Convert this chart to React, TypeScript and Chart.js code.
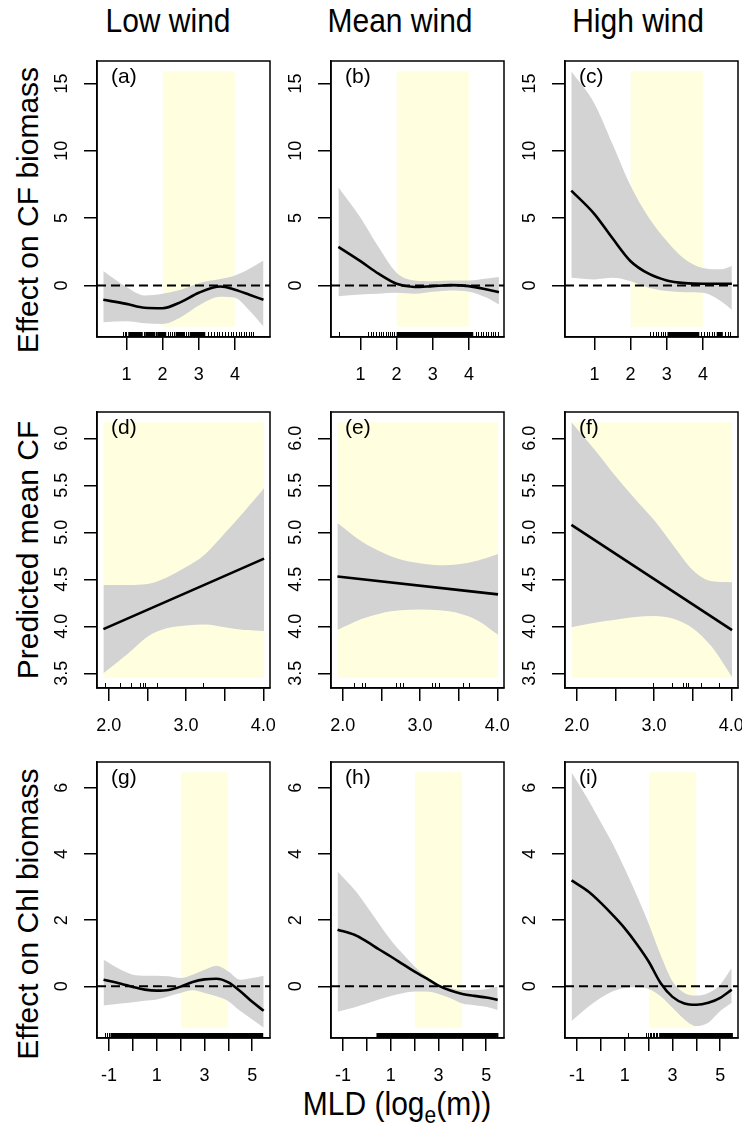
import React, { useEffect, useRef } from "react";
import { Chart, registerables } from "chart.js";

Chart.register(...registerables);

const FONT = '"Liberation Sans", Arial, Helvetica, sans-serif';

// ---------- text ----------
const columnTitles = ["Low wind", "Mean wind", "High wind"];
const rowTitles = ["Effect on CF biomass", "Predicted mean CF", "Effect on Chl biomass"];
const panelLetters = [
  ["(a)", "(b)", "(c)"],
  ["(d)", "(e)", "(f)"],
  ["(g)", "(h)", "(i)"],
];

// ---------- axes per row ----------
const row1XRange = [0.186, 4.97];
const row1YRange = [-3.83, 16.67];
const row1XTicks = [1, 2, 3, 4];
const row1XLabels = ["1", "2", "3", "4"];
const row1YTicks = [0, 5, 10, 15];
const row1YLabels = ["0", "5", "10", "15"];
const row1Yellow = { x: [2, 4], y: [-3.07, 15.91] };

const row2XRange = [1.847, 4.087];
const row2YRange = [3.344, 6.28];
const row2XTicks = [2.0, 2.5, 3.0, 3.5, 4.0];
const row2XLabels = ["2.0", "", "3.0", "", "4.0"];
const row2YTicks = [3.5, 4.0, 4.5, 5.0, 5.5, 6.0];
const row2YLabels = ["3.5", "4.0", "4.5", "5.0", "5.5", "6.0"];
const row2Yellow = { x: [1.93, 4.01], y: [3.45, 6.17] };

const row3XRange = [-1.504, 5.744];
const row3YRange = [-1.563, 6.78];
const row3XTicks = [-1, 0, 1, 2, 3, 4, 5];
const row3XLabels = ["-1", "", "1", "", "3", "", "5"];
const row3YTicks = [0, 2, 4, 6];
const row3YLabels = ["0", "2", "4", "6"];
const row3Yellow = { x: [2, 4], y: [-1.254, 6.47] };

// ---------- data: row 1 (effect on CF biomass) ----------
const aX = [0.36, 1.0, 1.5, 2.0, 2.5, 3.0, 3.6, 4.0, 4.4, 4.79];
const aFit = [-1.07, -1.37, -1.66, -1.69, -1.24, -0.54, -0.08, -0.32, -0.69, -1.07];
const aUpper = [1.07, -0.12, -0.74, -0.62, -0.32, 0.17, 0.47, 0.74, 1.24, 1.86];
const aLower = [-2.73, -2.66, -2.8, -2.86, -2.36, -1.49, -0.84, -0.92, -1.86, -3.05];
const aRugTicks = [0.9, 0.95, 1.0, 1.48, 1.82, 2.15, 2.2, 2.27, 2.32, 2.65, 2.7, 3.25, 3.35, 3.42, 3.5, 3.55, 3.65, 3.72, 3.8, 3.88, 3.95, 4.02, 4.1, 4.16, 4.25, 4.3, 4.38, 4.45, 4.5];
const aRugSpans = [[1.05, 1.45], [1.52, 1.8], [1.85, 2.1], [2.36, 2.62], [2.75, 3.18]];

const bX = [0.39, 1.0, 1.5, 2.0, 2.5, 3.0, 3.5, 4.0, 4.5, 4.83];
const bFit = [2.86, 1.8, 0.87, 0.12, -0.12, -0.05, 0.02, -0.05, -0.3, -0.5];
const bUpper = [7.3, 5.05, 2.85, 0.95, 0.37, 0.32, 0.37, 0.37, 0.52, 0.62];
const bLower = [-0.8, -0.67, -0.62, -0.55, -0.62, -0.47, -0.37, -0.47, -0.92, -1.42];
const bRugTicks = [0.4, 1.2, 1.28, 1.35, 1.42, 1.5, 1.56, 1.62, 1.7, 1.76, 1.82, 1.88, 1.94, 4.2, 4.26, 4.33, 4.4, 4.46, 4.52, 4.6, 4.66, 4.72, 4.8];
const bRugSpans = [[2.0, 4.12]];

const cX = [0.36, 1.0, 1.5, 2.0, 2.5, 3.0, 3.5, 4.0, 4.5, 4.8];
const cFit = [7.04, 5.3, 3.5, 1.8, 0.87, 0.37, 0.17, 0.12, 0.12, 0.12];
const cUpper = [15.9, 13.5, 10.5, 7.4, 5.05, 3.3, 1.95, 1.3, 1.2, 1.45];
const cLower = [0.57, 0.45, 0.57, 0.32, -0.17, -0.42, -0.5, -0.55, -1.17, -1.8];
const cRugTicks = [2.55, 2.62, 2.7, 2.76, 2.84, 2.9, 2.96, 3.95, 4.02, 4.1, 4.18, 4.24, 4.32, 4.6, 4.68, 4.76];
const cRugSpans = [[3.02, 3.9], [4.38, 4.55]];

// ---------- data: row 2 (predicted mean CF) ----------
const row2BandX = [1.93, 2.25, 2.5, 2.75, 3.0, 3.25, 3.5, 3.75, 4.01];
const row2FitX = [1.93, 4.01];

const dFit = [3.97, 4.72];
const dUpper = [4.44, 4.44, 4.45, 4.52, 4.63, 4.77, 4.99, 5.22, 5.47];
const dLower = [3.5, 3.71, 3.89, 3.98, 4.01, 4.02, 3.99, 3.96, 3.95];
const dRugTicks = [1.95, 2.15, 2.29, 2.41, 2.44, 2.47, 2.63, 3.22];

const eFit = [4.53, 4.34];
const eUpper = [5.1, 4.9, 4.79, 4.71, 4.67, 4.65, 4.66, 4.7, 4.77];
const eLower = [3.96, 4.08, 4.14, 4.17, 4.18, 4.17, 4.14, 4.06, 3.91];
const eRugTicks = [2.15, 2.25, 2.29, 2.69, 2.74, 2.78, 3.15, 3.19, 3.24, 3.55, 3.63];

const fFit = [5.08, 3.96];
const fUpper = [6.17, 5.86, 5.6, 5.36, 5.13, 4.86, 4.6, 4.48, 4.47];
const fLower = [3.99, 4.04, 4.07, 4.1, 4.11, 4.08, 3.98, 3.78, 3.46];
const fRugTicks = [2.98, 3.23, 3.38, 3.41, 3.44, 3.61, 3.84];

// ---------- data: row 3 (effect on Chl biomass) ----------
const row3X = [-1.23, -0.5, 0, 0.5, 1.0, 1.5, 2.0, 2.5, 3.0, 3.5, 4.0, 4.5, 5.0, 5.48];

const gFit = [0.2, 0.08, -0.02, -0.1, -0.13, -0.11, -0.01, 0.13, 0.21, 0.23, 0.12, -0.15, -0.47, -0.74];
const gUpper = [0.8, 0.5, 0.35, 0.32, 0.32, 0.3, 0.25, 0.35, 0.5, 0.62, 0.45, 0.2, 0.25, 0.32];
const gLower = [-0.58, -0.52, -0.48, -0.44, -0.4, -0.3, -0.2, -0.12, -0.2, -0.3, -0.45, -0.75, -1.0, -1.25];
const gRugTicks = [-1.18, -1.1, -1.02];
const gRugSpans = [[-0.94, 5.46]];

const hFit = [1.71, 1.55, 1.35, 1.12, 0.9, 0.67, 0.44, 0.24, 0.02, -0.13, -0.23, -0.29, -0.34, -0.41];
const hUpper = [3.47, 2.9, 2.41, 1.9, 1.4, 0.98, 0.6, 0.29, 0.04, -0.06, -0.11, -0.11, -0.09, -0.01];
const hLower = [-0.77, -0.63, -0.52, -0.4, -0.29, -0.21, -0.16, -0.16, -0.23, -0.36, -0.52, -0.57, -0.62, -0.72];
const hRugTicks: number[] = [];
const hRugSpans = [[0.4, 5.51]];

const iFit = [3.2, 2.85, 2.52, 2.15, 1.75, 1.28, 0.75, 0.1, -0.32, -0.52, -0.56, -0.5, -0.35, -0.1];
const iUpper = [6.47, 5.6, 4.95, 4.3, 3.55, 2.75, 1.9, 0.95, 0.15, -0.2, -0.28, -0.2, 0.05, 0.55];
const iLower = [-1.05, -0.6, -0.35, -0.15, -0.05, -0.03, -0.08, -0.3, -0.65, -1.0, -1.2, -1.1, -0.75, -0.5];
const iRugTicks = [1.14, 1.9, 1.97, 2.04, 2.1, 2.17, 2.24, 2.3, 2.37];
const iRugSpans = [[2.44, 5.53]];

// ---------- layout ----------
const COL_LEFT = [97, 331, 565];
const ROW_TOP = [61, 412, 762];
const BOX_W = 173;
const BOX_H = 276;
const PAD_L = 60;
const PAD_T = 20;
const PAD_R = 24;
const PAD_B = 56;
const TITLE_X = [168, 400, 638];
const ROW_TITLE_Y = [210, 550, 914];

type RowCfg = {
  xRange: number[];
  yRange: number[];
  xTicks: number[];
  xLabels: string[];
  yTicks: number[];
  yLabels: string[];
  yellow: { x: number[]; y: number[] };
  zero: boolean;
};

const rowCfgs: RowCfg[] = [
  { xRange: row1XRange, yRange: row1YRange, xTicks: row1XTicks, xLabels: row1XLabels, yTicks: row1YTicks, yLabels: row1YLabels, yellow: row1Yellow, zero: true },
  { xRange: row2XRange, yRange: row2YRange, xTicks: row2XTicks, xLabels: row2XLabels, yTicks: row2YTicks, yLabels: row2YLabels, yellow: row2Yellow, zero: false },
  { xRange: row3XRange, yRange: row3YRange, xTicks: row3XTicks, xLabels: row3XLabels, yTicks: row3YTicks, yLabels: row3YLabels, yellow: row3Yellow, zero: true },
];

type Panel = {
  row: number;
  col: number;
  bandX: number[];
  upper: number[];
  lower: number[];
  fitX: number[];
  fit: number[];
  rugTicks: number[];
  rugSpans: number[][];
};

const panels: Panel[] = [
  { row: 0, col: 0, bandX: aX, upper: aUpper, lower: aLower, fitX: aX, fit: aFit, rugTicks: aRugTicks, rugSpans: aRugSpans },
  { row: 0, col: 1, bandX: bX, upper: bUpper, lower: bLower, fitX: bX, fit: bFit, rugTicks: bRugTicks, rugSpans: bRugSpans },
  { row: 0, col: 2, bandX: cX, upper: cUpper, lower: cLower, fitX: cX, fit: cFit, rugTicks: cRugTicks, rugSpans: cRugSpans },
  { row: 1, col: 0, bandX: row2BandX, upper: dUpper, lower: dLower, fitX: row2FitX, fit: dFit, rugTicks: dRugTicks, rugSpans: [] },
  { row: 1, col: 1, bandX: row2BandX, upper: eUpper, lower: eLower, fitX: row2FitX, fit: eFit, rugTicks: eRugTicks, rugSpans: [] },
  { row: 1, col: 2, bandX: row2BandX, upper: fUpper, lower: fLower, fitX: row2FitX, fit: fFit, rugTicks: fRugTicks, rugSpans: [] },
  { row: 2, col: 0, bandX: row3X, upper: gUpper, lower: gLower, fitX: row3X, fit: gFit, rugTicks: gRugTicks, rugSpans: gRugSpans },
  { row: 2, col: 1, bandX: row3X, upper: hUpper, lower: hLower, fitX: row3X, fit: hFit, rugTicks: hRugTicks, rugSpans: hRugSpans },
  { row: 2, col: 2, bandX: row3X, upper: iUpper, lower: iLower, fitX: row3X, fit: iFit, rugTicks: iRugTicks, rugSpans: iRugSpans },
];

const pts = (xs: number[], ys: number[]) => xs.map((x, i) => ({ x, y: ys[i] }));

function PanelChart({ p }: { p: Panel }) {
  const ref = useRef<HTMLCanvasElement | null>(null);
  const W = PAD_L + BOX_W + PAD_R;
  const H = PAD_T + BOX_H + PAD_B;

  useEffect(() => {
    if (!ref.current) return;
    const rc = rowCfgs[p.row];
    const letter = panelLetters[p.row][p.col];

    const decor = {
      id: "rDecor",
      afterDatasetsDraw(chart: any) {
        const { ctx, chartArea } = chart;
        const xs = chart.scales.x;
        ctx.save();
        ctx.fillStyle = "#000";
        ctx.strokeStyle = "#000";
        ctx.lineWidth = 1;
        const rugH = 5;
        p.rugSpans.forEach(([a, b]) => {
          const x0 = xs.getPixelForValue(a);
          const x1 = xs.getPixelForValue(b);
          ctx.fillRect(x0, chartArea.bottom - rugH, x1 - x0, rugH);
        });
        p.rugTicks.forEach((v) => {
          const x = Math.round(xs.getPixelForValue(v)) + 0.5;
          ctx.beginPath();
          ctx.moveTo(x, chartArea.bottom);
          ctx.lineTo(x, chartArea.bottom - rugH);
          ctx.stroke();
        });
        ctx.restore();
      },
      afterDraw(chart: any) {
        const { ctx, chartArea } = chart;
        const ys = chart.scales.y;
        ctx.save();
        ctx.strokeStyle = "#000";
        ctx.lineWidth = 1.5;
        ctx.strokeRect(chartArea.left, chartArea.top, chartArea.right - chartArea.left, chartArea.bottom - chartArea.top);
        ctx.fillStyle = "#000";
        ctx.font = `21px ${FONT}`;
        ctx.textAlign = "left";
        ctx.textBaseline = "middle";
        ctx.fillText(letter, chartArea.left + 14, chartArea.top + 16);
        ctx.font = `18px ${FONT}`;
        ctx.textAlign = "center";
        ctx.textBaseline = "middle";
        rc.yTicks.forEach((v, i) => {
          const y = ys.getPixelForValue(v);
          ctx.save();
          ctx.translate(chartArea.left - 35, y);
          ctx.rotate(-Math.PI / 2);
          ctx.fillText(rc.yLabels[i], 0, 0);
          ctx.restore();
        });
        ctx.restore();
      },
    };

    const datasets: any[] = [
      {
        label: "fit",
        data: pts(p.fitX, p.fit),
        borderColor: "#000",
        borderWidth: 2.6,
        pointRadius: 0,
        fill: false,
        cubicInterpolationMode: "monotone",
      },
    ];
    if (rc.zero) {
      datasets.push({
        label: "zero",
        data: [
          { x: rc.xRange[0], y: 0 },
          { x: rc.xRange[1], y: 0 },
        ],
        borderColor: "#000",
        borderWidth: 2,
        borderDash: [9, 5],
        pointRadius: 0,
        fill: false,
      });
    }
    datasets.push(
      {
        label: "upper",
        data: pts(p.bandX, p.upper),
        borderColor: "rgba(0,0,0,0)",
        borderWidth: 0,
        backgroundColor: "#d3d3d3",
        fill: "+1",
        pointRadius: 0,
        cubicInterpolationMode: "monotone",
      },
      {
        label: "lower",
        data: pts(p.bandX, p.lower),
        borderColor: "rgba(0,0,0,0)",
        borderWidth: 0,
        fill: false,
        pointRadius: 0,
        cubicInterpolationMode: "monotone",
      },
      {
        label: "rangeTop",
        data: pts(rc.yellow.x, [rc.yellow.y[1], rc.yellow.y[1]]),
        borderColor: "rgba(0,0,0,0)",
        borderWidth: 0,
        backgroundColor: "#FFFFE0",
        fill: "+1",
        pointRadius: 0,
      },
      {
        label: "rangeBottom",
        data: pts(rc.yellow.x, [rc.yellow.y[0], rc.yellow.y[0]]),
        borderColor: "rgba(0,0,0,0)",
        borderWidth: 0,
        fill: false,
        pointRadius: 0,
      }
    );

    const axisGrid = {
      display: true,
      drawOnChartArea: false,
      drawTicks: true,
      tickLength: 13,
      color: "#000",
      lineWidth: 1.5,
    };
    const axisBorder = { display: true, color: "#000", width: 1.5 };

    const chart = new Chart(ref.current, {
      type: "line",
      data: { datasets },
      options: {
        animation: false,
        responsive: false,
        maintainAspectRatio: false,
        events: [],
        layout: { padding: { left: 0, top: PAD_T, right: PAD_R, bottom: 0 } },
        plugins: {
          legend: { display: false },
          tooltip: { enabled: false },
          title: { display: false },
        },
        scales: {
          x: {
            type: "linear",
            position: "bottom",
            min: rc.xRange[0],
            max: rc.xRange[1],
            afterBuildTicks: (s: any) => {
              s.ticks = rc.xTicks.map((v) => ({ value: v }));
            },
            afterFit: (s: any) => {
              s.height = PAD_B;
            },
            grid: axisGrid,
            border: axisBorder,
            ticks: {
              autoSkip: false,
              maxRotation: 0,
              minRotation: 0,
              padding: 14,
              color: "#000",
              font: { family: FONT, size: 18 },
              callback: (_v: any, i: number) => rc.xLabels[i],
            },
          },
          y: {
            type: "linear",
            position: "left",
            min: rc.yRange[0],
            max: rc.yRange[1],
            afterBuildTicks: (s: any) => {
              s.ticks = rc.yTicks.map((v) => ({ value: v }));
            },
            afterFit: (s: any) => {
              s.width = PAD_L;
            },
            grid: axisGrid,
            border: axisBorder,
            ticks: { display: false },
          },
        },
      } as any,
      plugins: [decor],
    });
    return () => chart.destroy();
  }, []);

  return (
    <canvas
      ref={ref}
      width={W}
      height={H}
      style={{
        position: "absolute",
        left: COL_LEFT[p.col] - PAD_L,
        top: ROW_TOP[p.row] - PAD_T,
        width: W,
        height: H,
      }}
    />
  );
}

export default function App() {
  return (
    <div
      style={{
        position: "absolute",
        left: 0,
        top: 0,
        width: 742,
        height: 1126,
        overflow: "hidden",
        background: "#fff",
        fontFamily: FONT,
        color: "#000",
      }}
    >
      {columnTitles.map((t, i) => (
        <div
          key={t}
          style={{
            position: "absolute",
            left: TITLE_X[i] - 100,
            top: 4,
            width: 200,
            textAlign: "center",
            fontSize: 30,
            lineHeight: "34px",
            whiteSpace: "nowrap",
            transform: "scaleY(1.1)",
          }}
        >
          {t}
        </div>
      ))}
      {rowTitles.map((t, i) => (
        <div
          key={t}
          style={{
            position: "absolute",
            left: 28 - 200,
            top: ROW_TITLE_Y[i] - 17,
            width: 400,
            height: 34,
            textAlign: "center",
            fontSize: 30,
            lineHeight: "34px",
            whiteSpace: "nowrap",
            transform: "rotate(-90deg)",
            transformOrigin: "50% 50%",
          }}
        >
          {t}
        </div>
      ))}
      <div
        style={{
          position: "absolute",
          left: 397 - 150,
          top: 1087,
          width: 300,
          textAlign: "center",
          fontSize: 30,
          lineHeight: "34px",
          whiteSpace: "nowrap",
          transform: "scaleY(1.1)",
        }}
      >
        MLD (log
        <span style={{ fontSize: 21, position: "relative", top: 7 }}>e</span>
        (m))
      </div>
      {panels.map((p) => (
        <PanelChart key={`${p.row}-${p.col}`} p={p} />
      ))}
    </div>
  );
}
